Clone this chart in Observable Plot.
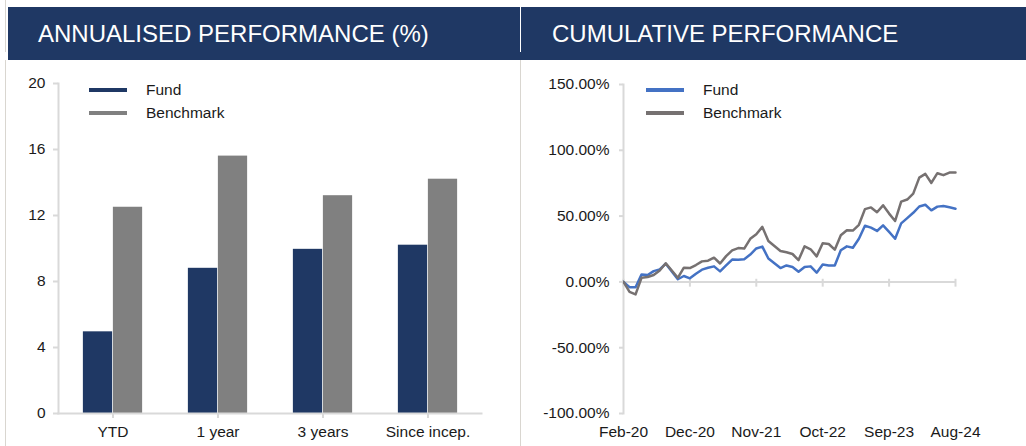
<!DOCTYPE html>
<html>
<head>
<meta charset="utf-8">
<script src="https://cdn.jsdelivr.net/npm/d3@7"></script>
<script src="https://cdn.jsdelivr.net/npm/@observablehq/plot@0.6"></script>
<style>
  html, body { margin: 0; padding: 0; background: #fff; }
  body { font-family: "Liberation Sans", Arial, sans-serif; }
  #wrap { position: relative; width: 1026px; height: 446px; overflow: hidden; background: #fff; }
  .band { position: absolute; left: 8px; top: 7px; width: 1018px; height: 53px; background: #1f3864; }
  .sep { position: absolute; left: 520px; top: 7px; width: 1px; height: 45px; background: #fff; }
  .title { position: absolute; top: 22px; color: #fff; font-size: 24px; line-height: 24px; white-space: nowrap; }
  .vline { position: absolute; width: 1px; background: #d9d6d0; }
  .panel { position: absolute; top: 60px; }
  .leg { position: absolute; font-size: 15.5px; line-height: 16px; color: #1a1a1a; white-space: nowrap; }
  .sw { position: absolute; width: 38px; height: 4px; }
</style>
</head>
<body>
<div id="wrap">
  <div class="vline" style="left:5px;top:0;height:52px"></div>
  <div class="vline" style="left:5px;top:60px;height:386px"></div>
  <div class="vline" style="left:520px;top:60px;height:386px"></div>
  <div class="band"></div>
  <div class="sep"></div>
  <div class="title" style="left:38px">ANNUALISED PERFORMANCE (%)</div>
  <div class="title" style="left:552px">CUMULATIVE PERFORMANCE</div>
  <div id="left" class="panel" style="left:0px"></div>
  <div id="right" class="panel" style="left:520px"></div>
  <div id="legL"></div>
  <div id="legR"></div>
</div>
<script>
// ---- Annualised performance (%) ----
const categories = ["YTD", "1 year", "3 years", "Since incep."];
const fundAnnual = [4.95, 8.8, 9.95, 10.2];
const benchAnnual = [12.5, 15.6, 13.2, 14.2];
const annualTicks = [0, 4, 8, 12, 16, 20];

// ---- Cumulative performance (%) ----
const fundCum = [0, -4, -4, 5.7, 5.2, 8.2, 9.5, 13.8, 8, 2, 4.5, 2.7, 6.2, 9.3, 10.7, 11.8, 8, 12.6, 17, 16.8,
  17.3, 20.8, 25.4, 26.8, 17.8, 14.2, 10.5, 12.5, 11.3, 7.7, 11.3, 11.8, 7, 13.2, 12.5, 12.5, 24, 27, 26, 32.8,
  42.7, 41.2, 38.7, 43, 38, 32.8, 44.5, 48.5, 52.5, 57.3, 58.6, 54.4, 57.2, 57.6, 56.7, 55.6];
const benchCum = [0, -7.6, -9.5, 3.2, 3.7, 5.2, 8.7, 14.2, 8.7, 3.1, 10.8, 10.5, 12.8, 15.6, 16.1, 18.4, 14, 19.6, 24, 25.7,
  25.3, 32.7, 36.2, 41.8, 31.1, 27.3, 23.5, 22.5, 21.2, 16.6, 27, 24.8, 19.4, 29.3, 28.8, 24.5, 35.4, 39.2, 39, 43.4,
  55.3, 56.6, 52.9, 58.2, 51.9, 46.3, 61, 62.6, 67.1, 79.2, 82.1, 75.2, 82.6, 81.1, 83.1, 83.1];
const dateTickIndex = [0, 11, 22, 33, 44, 55];
const dateTickLabels = ["Feb-20", "Dec-20", "Nov-21", "Oct-22", "Sep-23", "Aug-24"];
const cumTicks = [-100, -50, 0, 50, 100, 150];

const seriesNames = ["Fund", "Benchmark"];
const navy = "#1f3864", barGrey = "#808080", fundBlue = "#4472c4", benchGrey = "#767171";
const axisGrey = "#d9d9d9", textCol = "#1a1a1a";

const baseStyle = {
  fontFamily: "'Liberation Sans', Arial, sans-serif",
  fontSize: "15.5px",
  color: textCol,
  background: "transparent",
  overflow: "visible"
};

const bars = categories.map((c, i) => ({category: c, fund: fundAnnual[i], bench: benchAnnual[i]}));
const bw = (520 - 58 - 39) / categories.length;  // band width
const half = bw / 2, barW = 30;

const leftPlot = Plot.plot({
  width: 520, height: 386,
  marginLeft: 58, marginRight: 39, marginTop: 23, marginBottom: 33,
  style: baseStyle,
  x: {domain: categories, padding: 0},
  y: {domain: [0, 20]},
  marks: [
    Plot.barY(bars, {x: "category", y: "fund", fill: navy, insetLeft: half - barW, insetRight: half}),
    Plot.barY(bars, {x: "category", y: "bench", fill: barGrey, insetLeft: half, insetRight: half - barW}),
    Plot.frame({anchor: "left", stroke: axisGrey, strokeWidth: 2}),
    Plot.frame({anchor: "bottom", stroke: axisGrey, strokeWidth: 2}),
    Plot.axisY({ticks: annualTicks, tickSize: 5, tickPadding: 8, stroke: axisGrey, strokeWidth: 2, color: textCol, label: null}),
    Plot.axisX({tickSize: 5, tickPadding: 7, stroke: axisGrey, strokeWidth: 2, color: textCol, label: null})
  ]
});
document.getElementById("left").appendChild(leftPlot);

const rightPlot = Plot.plot({
  width: 506, height: 386,
  marginLeft: 103, marginRight: 71, marginTop: 24, marginBottom: 33,
  style: baseStyle,
  x: {domain: [0, fundCum.length - 1]},
  y: {domain: [-100, 150]},
  marks: [
    Plot.frame({anchor: "left", stroke: axisGrey, strokeWidth: 2}),
    Plot.ruleY([0], {stroke: axisGrey, strokeWidth: 2}),
    Plot.ruleX(dateTickIndex, {y1: 2, y2: -4, stroke: axisGrey, strokeWidth: 2}),
    Plot.lineY(fundCum, {x: (d, i) => i, y: d => d, stroke: fundBlue, strokeWidth: 2.5}),
    Plot.lineY(benchCum, {x: (d, i) => i, y: d => d, stroke: benchGrey, strokeWidth: 2.5}),
    Plot.axisY({ticks: cumTicks, tickFormat: d => d.toFixed(2) + "%", tickSize: 4, tickPadding: 10,
      stroke: axisGrey, strokeWidth: 2, color: textCol, label: null}),
    Plot.axisX({ticks: dateTickIndex, tickFormat: i => dateTickLabels[dateTickIndex.indexOf(i)],
      tickSize: 0, tickPadding: 12, color: textCol, label: null})
  ]
});
document.getElementById("right").appendChild(rightPlot);

// Legends (HTML)
function legend(el, x0, colors) {
  const host = document.getElementById(el);
  seriesNames.forEach((name, k) => {
    const cy = 90 + k * 23;
    const sw = document.createElement("div");
    sw.className = "sw";
    sw.style.left = x0 + "px";
    sw.style.top = (cy - 2) + "px";
    sw.style.background = colors[k];
    host.appendChild(sw);
    const t = document.createElement("div");
    t.className = "leg";
    t.style.left = (x0 + 57) + "px";
    t.style.top = (cy - 8) + "px";
    t.textContent = name;
    host.appendChild(t);
  });
}
legend("legL", 89, [navy, barGrey]);
legend("legR", 646, [fundBlue, benchGrey]);
</script>
</body>
</html>
